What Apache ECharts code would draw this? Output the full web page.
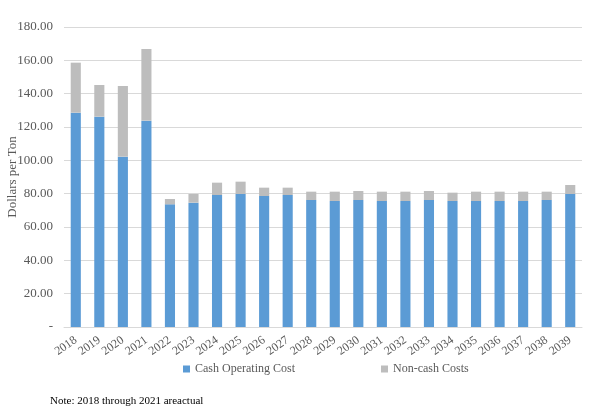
<!DOCTYPE html>
<html>
<head>
<meta charset="utf-8">
<script src="https://cdn.jsdelivr.net/npm/echarts@6/dist/echarts.min.js"></script>
<style>html,body{margin:0;padding:0;background:#fff}#c{width:600px;height:420px}</style>
</head>
<body>
<div id="c"></div>
<script>
const years = ['2018','2019','2020','2021','2022','2023','2024','2025','2026','2027','2028','2029','2030','2031','2032','2033','2034','2035','2036','2037','2038','2039'];
const cashOperating = [128.6,126.2,102.2,123.8,73.6,74.6,79.2,79.8,78.6,79.2,76.2,75.6,76.2,75.6,75.6,76.2,75.6,75.6,75.6,75.6,76.2,79.8];
const nonCash = [30.0,19.0,42.4,43.0,3.2,5.2,7.4,7.4,5.0,4.4,5.0,5.6,5.4,5.6,5.6,5.4,5.0,5.6,5.6,5.6,5.0,5.4];
const yTicks = [0,20,40,60,80,100,120,140,160,180];
const seriesNames = ['Cash Operating Cost','Non-cash Costs'];
const noteText = 'Note: 2018 through 2021 areactual';

const FONT = '"Liberation Serif", "Times New Roman", serif';
const chart = echarts.init(document.getElementById('c'), null, {renderer:'canvas'});
chart.setOption({
  animation:false,
  grid:{left:64,right:18,top:27,bottom:93,containLabel:false,outerBoundsMode:'none'},
  legend:{
    data:seriesNames, top:358, left:178, itemGap:86,
    itemWidth:7, itemHeight:7, icon:'rect',
    textStyle:{fontFamily:FONT,fontSize:12,color:'#595959'}
  },
  graphic:[{type:'text',left:50,top:396,style:{text:noteText,font:'11px '+FONT,fill:'#000'}}],
  xAxis:{
    type:'category', data:years,
    axisLine:{lineStyle:{color:'#D9D9D9'}},
    axisTick:{show:false},
    axisLabel:{rotate:35,fontFamily:FONT,fontSize:12,color:'#595959',interval:0,margin:12}
  },
  yAxis:{
    type:'value', min:yTicks[0], max:yTicks[yTicks.length-1], interval:20,
    name:'Dollars per Ton', nameLocation:'middle', nameGap:45, nameMoveOverlap:false,
    nameTextStyle:{fontFamily:FONT,fontSize:13,color:'#595959'},
    axisLine:{show:false}, axisTick:{show:false},
    splitLine:{lineStyle:{color:'#D9D9D9'}},
    axisLabel:{fontFamily:FONT,fontSize:13,color:'#595959',margin:11,
      formatter:v=> v===0 ? '-' : v.toFixed(2)}
  },
  series:[
    {name:seriesNames[0],type:'bar',stack:'t',data:cashOperating,barWidth:'43%',itemStyle:{color:'#5B9BD5'}},
    {name:seriesNames[1],type:'bar',stack:'t',data:nonCash,barWidth:'43%',itemStyle:{color:'#BDBDBD'}}
  ]
});
</script>
</body>
</html>
